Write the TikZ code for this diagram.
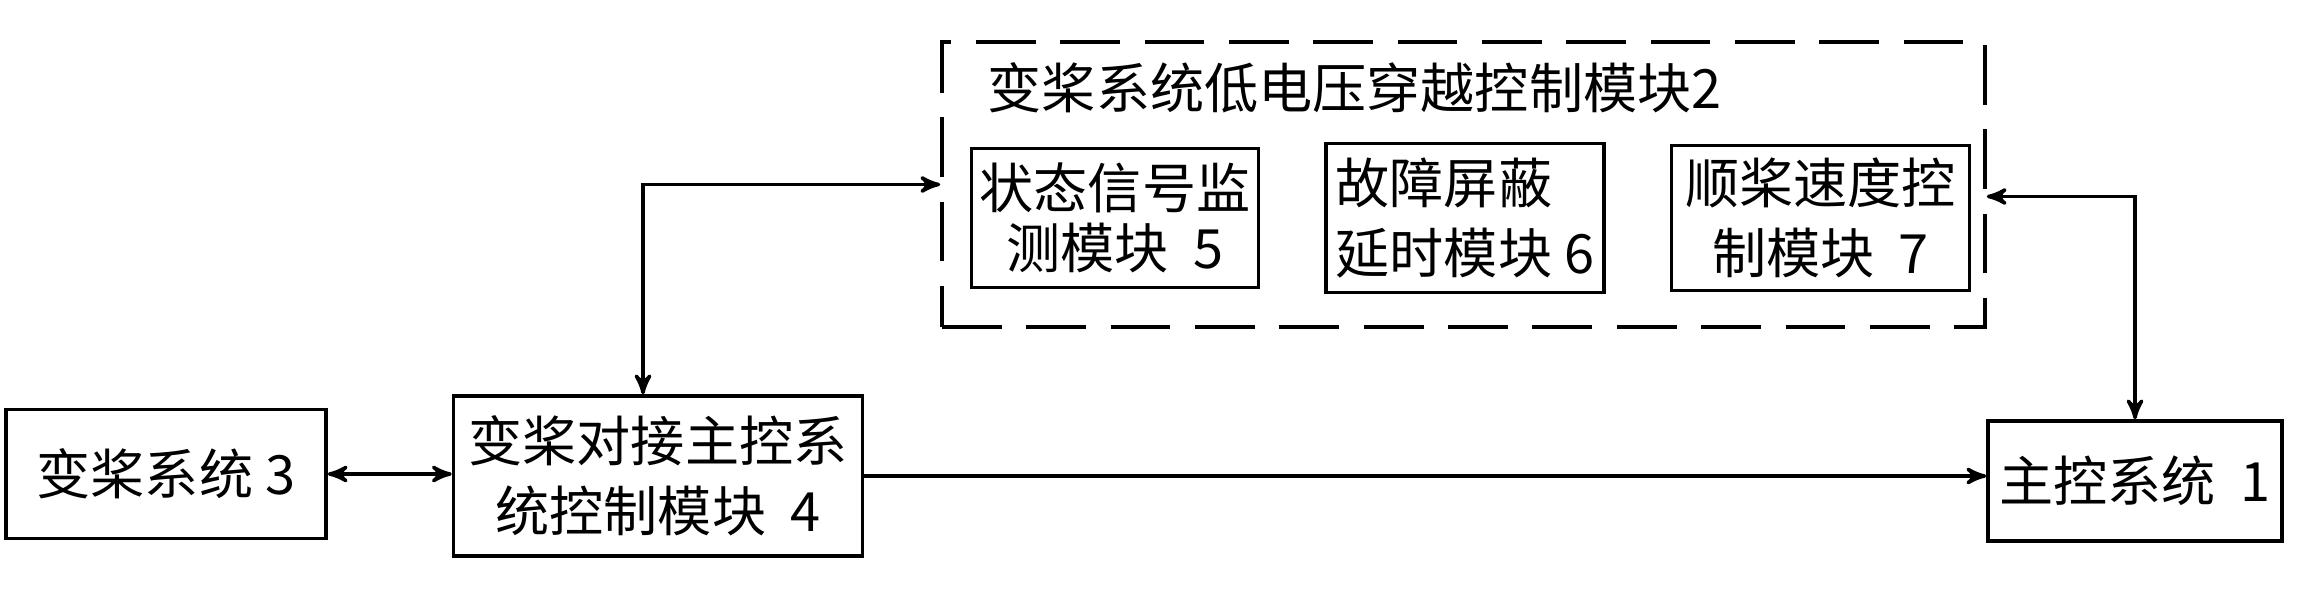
\documentclass[tikz,border=0pt]{standalone}
\usepackage{fontspec}
\setmainfont{Noto Sans CJK SC}
\usetikzlibrary{arrows,positioning}

\begin{document}
\begin{tikzpicture}[>=stealth',line width=1pt,node distance=0.64cm,
  main node/.style={rectangle,draw,inner sep=0pt,align=center,font=\fontsize{15.4}{20}\selectfont},
  group box/.style={rectangle,draw,dash pattern=on 17pt off 7pt,minimum width=10.43cm,minimum height=2.85cm}]

  \useasboundingbox (0,0) rectangle (23.17,5.94);

  \node[main node,minimum width=3.2cm,minimum height=1.29cm] (b3) at (1.66,1.20) {变桨系统 3};
  \node[main node,minimum width=4.09cm,minimum height=1.6cm] (b4) at (6.58,1.18) {变桨对接主控系\\统控制模块\ \ 4};
  \node[main node,minimum width=2.94cm,minimum height=1.2cm] (b1) at (21.35,1.13) {主控系统\ \ 1};

  \node[group box] (lvrt) at (14.635,4.095) {};
  \node[anchor=west,inner sep=0pt,font=\fontsize{15.4}{20}\selectfont] (title) at (9.86,5.06) {变桨系统低电压穿越控制模块2};

  \node[main node,minimum width=2.87cm,minimum height=1.39cm,font=\fontsize{15.4}{17}\selectfont] (b5) at (11.15,3.76) {状态信号监\\测模块\ \ 5};
  \node[main node,minimum width=2.78cm,minimum height=1.49cm,align=left] (b6) [right=of b5] {故障屏蔽\\延时模块 6};
  \node[main node,minimum width=2.98cm,minimum height=1.45cm] (b7) [right=of b6] {顺桨速度控\\制模块\ \ 7};

  \draw[<->] (b3.east) -- (b3.east -| b4.west);
  \draw[<->] ([xshift=-0.15cm]b4.north) |- (lvrt.west);
  \draw[->] (b4.east) -- (b4.east -| b1.west);
  \draw[<->] ([yshift=-0.12cm]lvrt.east) -| (b1.north);
\end{tikzpicture}
\end{document}
